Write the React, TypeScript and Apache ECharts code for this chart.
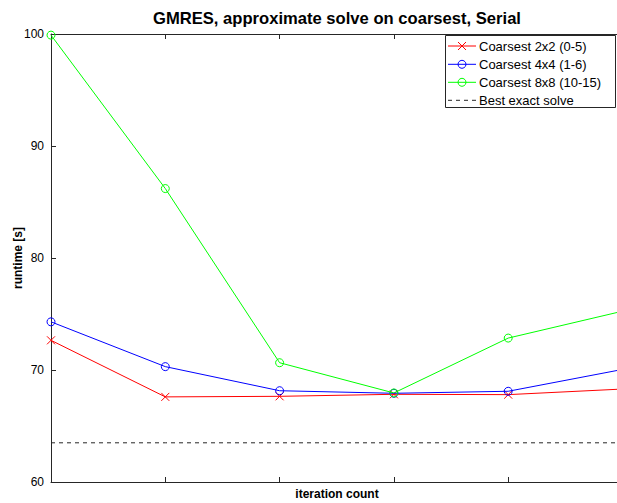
import React, { useEffect, useRef } from "react";
import * as echarts from "echarts";

const iterations = [0, 1, 2, 3, 4, 5];
const coarse2 = [72.65, 67.6, 67.65, 67.83, 67.8, 68.3];
const coarse4 = [74.3, 70.3, 68.15, 67.92, 68.1, 70.05];
const coarse8 = [99.9, 86.2, 70.65, 67.95, 72.85, 75.25];
const bestExact = 63.5;
const yTicks = [60, 70, 80, 90, 100];
const xVisibleMax = 4.952;
const seriesNames = ["Coarsest 2x2 (0-5)", "Coarsest 4x4 (1-6)", "Coarsest 8x8 (10-15)", "Best exact solve"];
const seriesColors = ["#ff0000", "#0000ff", "#00ff00", "#000000"];

const FONT = "Liberation Sans, Arial, Helvetica, sans-serif";
const XPATH = "path://M0,0L10,10M10,0L0,10";

export default function App() {
  const ref = useRef<HTMLDivElement>(null);
  useEffect(() => {
    if (!ref.current) return;
    const chart = echarts.init(ref.current, null, { renderer: "svg" });
    const mk = (d: number[]) => iterations.map((x, i) => [x, d[i]]);
    const circleItem = (c: string) => ({ color: "transparent", borderColor: c, borderWidth: 1 });
    const xAx = (position: string) => ({
      type: "value",
      min: 0,
      max: xVisibleMax,
      interval: 1,
      position,
      axisLine: { lineStyle: { color: "#262626", width: 1 } },
      axisTick: { inside: true, length: 5, lineStyle: { color: "#262626" } },
      axisLabel: { show: false },
      splitLine: { show: false },
    });

    // manual legend
    const lgLeft = 445.5, lgTop = 35.5, lgW = 170, lgH = 72;
    const rowY = [46, 64.3, 82.3, 100.3];
    const sx0 = 448, sx1 = 476, scx = 462;
    const legendEls: any[] = [
      {
        type: "rect",
        shape: { x: lgLeft, y: lgTop, width: lgW, height: lgH },
        style: { fill: "#fff", stroke: "#262626", lineWidth: 1 },
        z: 100,
      },
    ];
    seriesNames.forEach((name, i) => {
      const y = rowY[i];
      const c = seriesColors[i];
      legendEls.push({
        type: "line",
        shape: { x1: sx0, y1: y, x2: sx1, y2: y },
        style: { stroke: i === 3 ? "#262626" : c, lineWidth: 1, lineDash: i === 3 ? [4, 4] : null },
        z: 101,
      });
      if (i === 0) {
        legendEls.push({
          type: "line",
          shape: { x1: scx - 4, y1: y - 4, x2: scx + 4, y2: y + 4 },
          style: { stroke: c, lineWidth: 1 },
          z: 102,
        });
        legendEls.push({
          type: "line",
          shape: { x1: scx - 4, y1: y + 4, x2: scx + 4, y2: y - 4 },
          style: { stroke: c, lineWidth: 1 },
          z: 102,
        });
      } else if (i < 3) {
        legendEls.push({
          type: "circle",
          shape: { cx: scx, cy: y, r: 4 },
          style: { fill: "none", stroke: c, lineWidth: 1 },
          z: 102,
        });
      }
      legendEls.push({
        type: "text",
        x: 479,
        y,
        style: {
          text: name,
          font: `13px ${FONT}`,
          fill: "#000",
          textAlign: "left",
          textVerticalAlign: "middle",
        },
        z: 102,
      });
    });

    chart.setOption({
      animation: false,
      backgroundColor: "#fff",
      textStyle: { fontFamily: FONT },
      grid: { left: 51, right: 0, top: 34, bottom: 21 },
      xAxis: [xAx("bottom"), xAx("top")],
      yAxis: {
        type: "value",
        min: yTicks[0],
        max: yTicks[yTicks.length - 1],
        interval: 10,
        axisLine: { show: true, lineStyle: { color: "#262626", width: 1 } },
        axisTick: { show: true, inside: true, length: 5, lineStyle: { color: "#262626" } },
        axisLabel: { fontFamily: FONT, fontSize: 12, color: "#000", margin: 7 },
        splitLine: { show: false },
      },
      graphic: [
        {
          type: "text",
          x: 337,
          y: 18,
          style: {
            text: "GMRES, approximate solve on coarsest, Serial",
            font: `bold 16.6px ${FONT}`,
            fill: "#000",
            textAlign: "center",
            textVerticalAlign: "middle",
          },
        },
        {
          type: "text",
          x: 18,
          y: 258,
          rotation: Math.PI / 2,
          style: {
            text: "runtime [s]",
            font: `bold 12px ${FONT}`,
            fill: "#000",
            textAlign: "center",
            textVerticalAlign: "middle",
          },
        },
        {
          type: "text",
          x: 337,
          y: 494,
          style: {
            text: "iteration count",
            font: `bold 12px ${FONT}`,
            fill: "#000",
            textAlign: "center",
            textVerticalAlign: "middle",
          },
        },
        ...legendEls,
      ],
      series: [
        {
          name: seriesNames[0],
          type: "line",
          color: seriesColors[0],
          data: mk(coarse2),
          symbol: XPATH,
          symbolSize: 8,
          lineStyle: { color: seriesColors[0], width: 1 },
          itemStyle: { color: seriesColors[0], borderColor: seriesColors[0], borderWidth: 1 },
          z: 3,
        },
        {
          name: seriesNames[1],
          type: "line",
          color: seriesColors[1],
          data: mk(coarse4),
          symbol: "circle",
          symbolSize: 8,
          lineStyle: { color: seriesColors[1], width: 1 },
          itemStyle: circleItem(seriesColors[1]),
          z: 4,
        },
        {
          name: seriesNames[2],
          type: "line",
          color: seriesColors[2],
          data: mk(coarse8),
          symbol: "circle",
          symbolSize: 8,
          lineStyle: { color: seriesColors[2], width: 1 },
          itemStyle: circleItem(seriesColors[2]),
          z: 5,
        },
        {
          name: seriesNames[3],
          type: "line",
          color: "#262626",
          data: mk(iterations.map(() => bestExact)),
          symbol: "none",
          lineStyle: { color: "#262626", width: 1, type: [4, 4] },
          z: 2,
        },
      ],
    });
    return () => chart.dispose();
  }, []);
  return <div ref={ref} style={{ width: 617, height: 503, position: "fixed", left: 0, top: 0 }} />;
}
